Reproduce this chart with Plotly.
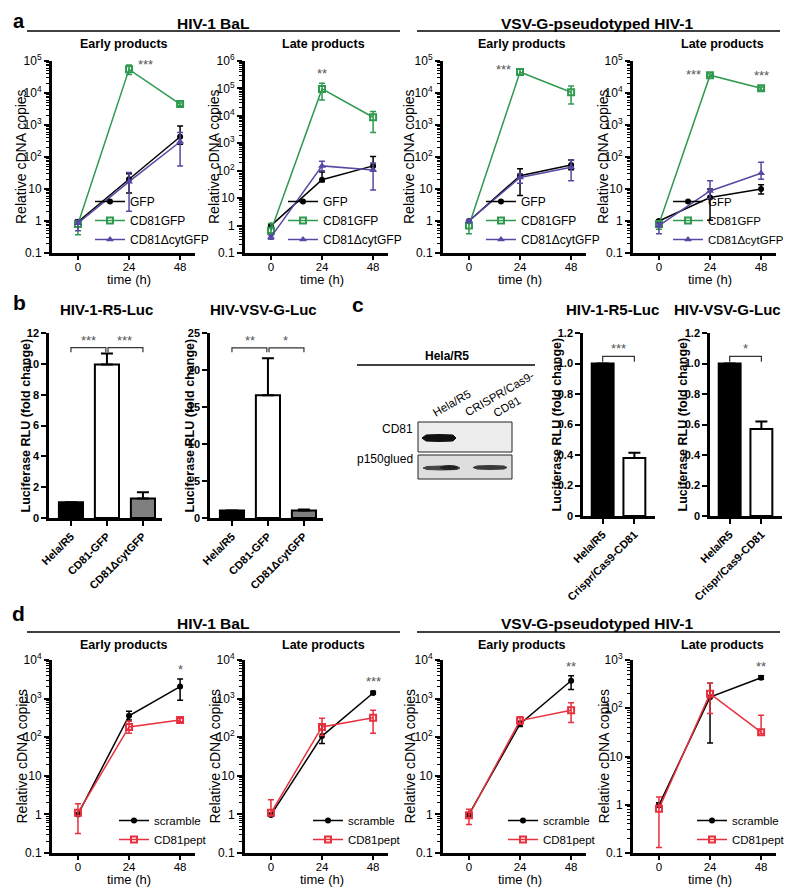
import math
import plotly.graph_objects as go

# page body keeps an 8px margin, so the figure is 784x880 and positions are
# expressed in reference-image pixels shifted by that margin
OFF = 8
FW, FH = 784, 880
FONT = "Liberation Sans, Arial, sans-serif"

# ------------------------------------------------------------------ data
time_h = [0, 24, 48]

# a) HIV-1 BaL - early products
a1_gfp, a1_gfp_hi, a1_gfp_lo = [0.95, 20, 430], [1.10, 30, 930], [0.80, 7.5, 250]
a1_cd81, a1_cd81_hi, a1_cd81_lo = [0.80, 55000, 4500], [1.00, 75000, 4900], [0.37, 38000, 4100]
a1_dcyt, a1_dcyt_hi, a1_dcyt_lo = [0.85, 17, 300], [1.05, 33, 580], [0.50, 2, 52]
# a) HIV-1 BaL - late products
a2_gfp, a2_gfp_hi, a2_gfp_lo = [1.0, 47, 150], [1.1, 90, 330], [0.9, 40, 100]
a2_cd81, a2_cd81_hi, a2_cd81_lo = [0.65, 96000, 8900], [1.2, 155000, 14500], [0.55, 38000, 2450]
a2_dcyt, a2_dcyt_hi, a2_dcyt_lo = [0.38, 150, 107], [0.45, 220, 190], [0.32, 100, 20]
# a) VSV-G - early products
a3_gfp, a3_gfp_hi, a3_gfp_lo = [1.0, 26, 56], [1.1, 43, 80], [0.9, 6.3, 40]
a3_cd81, a3_cd81_hi, a3_cd81_lo = [0.72, 45000, 10500], [1.0, 55000, 16500], [0.4, 38000, 4500]
a3_dcyt, a3_dcyt_hi, a3_dcyt_lo = [1.0, 23, 48], [1.1, 30, 81], [0.9, 15, 18]
# a) VSV-G - late products
a4_gfp, a4_gfp_hi, a4_gfp_lo = [1.0, 5.4, 10], [1.1, 10, 13.5], [0.9, 1.05, 7]
a4_cd81, a4_cd81_hi, a4_cd81_lo = [0.8, 36000, 14000], [1.0, 39000, 15500], [0.55, 33000, 12500]
a4_dcyt, a4_dcyt_hi, a4_dcyt_lo = [0.72, 8.7, 31], [0.85, 18, 69], [0.4, 5, 20]

a_names = ["GFP", "CD81GFP", "CD81\u0394cytGFP"]

# b) luciferase
b_categories = ["Hela/R5", "CD81-GFP", "CD81\u0394cytGFP"]
b_r5, b_r5_err = [1.02, 9.95, 1.27], [0, 0.72, 0.40]
b_vsv, b_vsv_err = [1.0, 16.6, 1.03], [0, 5.0, 0.12]
b_r5_sig = [(0, 1, "***"), (1, 2, "***")]
b_vsv_sig = [(0, 1, "**"), (1, 2, "*")]

# c) CRISPR knock-out
c_categories = ["Hela/R5", "Crispr/Cas9-CD81"]
c_r5, c_r5_err = [1.0, 0.38], [0, 0.035]
c_vsv, c_vsv_err = [1.0, 0.57], [0, 0.05]
c_r5_sig = [(0, 1, "***")]
c_vsv_sig = [(0, 1, "*")]
blot_lanes = ["Hela/R5", "CRISPR/Cas9-<br>CD81"]
blot_rows = ["CD81", "p150glued"]

# d) CD81 peptide
d_names = ["scramble", "CD81pept"]
d1_scr, d1_scr_hi, d1_scr_lo = [1.0, 360, 2050], [1.05, 470, 3200], [0.95, 280, 910]
d1_pep, d1_pep_hi, d1_pep_lo = [1.1, 185, 280], [1.9, 260, 310], [0.32, 126, 250]
d2_scr, d2_scr_hi, d2_scr_lo = [0.97, 107, 1400], [1.05, 210, 1550], [0.9, 69, 1300]
d2_pep, d2_pep_hi, d2_pep_lo = [1.1, 185, 320], [2.4, 310, 500], [0.95, 110, 126]
d3_scr, d3_scr_hi, d3_scr_lo = [1.0, 220, 2900], [1.1, 260, 3900], [0.9, 190, 1730]
d3_pep, d3_pep_hi, d3_pep_lo = [0.95, 270, 500], [1.35, 340, 780], [0.55, 220, 240]
d4_scr, d4_scr_hi, d4_scr_lo = [0.98, 170, 430], [1.1, 330, 470], [0.9, 19, 400]
d4_pep, d4_pep_hi, d4_pep_lo = [0.83, 200, 32], [1.45, 330, 72], [0.13, 78, 30]

# ------------------------------------------------------------------ styles
STY = {
    "GFP": dict(color="black", symbol="circle", size=6),
    "CD81GFP": dict(color="#2f9a4f", symbol="square-open", size=6),
    "CD81\u0394cytGFP": dict(color="#5748a4", symbol="triangle-up", size=7),
    "scramble": dict(color="black", symbol="circle", size=6),
    "CD81pept": dict(color="#e8303f", symbol="square-open", size=6),
}
BAR_FILL_B = ["black", "white", "#7f7f7f"]
BAR_FILL_C = ["black", "white"]
STAR_COLOR = "#555555"


def px(x):
    return (x - OFF) / FW


def py(y):
    return 1 - (y - OFF) / FH


def ax(idx):
    return ("x", "y") if idx == 1 else (f"x{idx}", f"y{idx}")


def axkey(idx):
    return ("xaxis", "yaxis") if idx == 1 else (f"xaxis{idx}", f"yaxis{idx}")


fig = go.Figure()
layout = dict(
    width=FW, height=FH, margin=dict(l=0, r=0, t=0, b=0, pad=0), autosize=False,
    paper_bgcolor="white", plot_bgcolor="white",
    font=dict(family=FONT, color="black", size=12),
    showlegend=True,
)
annotations = []
shapes = []


def text(x, y, s, size=12, bold=False, xanchor="center", yanchor="middle", angle=0):
    annotations.append(dict(x=px(x), y=py(y), xref="paper", yref="paper", text=s,
                            showarrow=False, xanchor=xanchor, yanchor=yanchor,
                            textangle=angle,
                            font=dict(size=size, weight="bold" if bold else "normal")))


def hline(x0, x1, y, w=1.6):
    shapes.append(dict(type="line", xref="paper", yref="paper", x0=px(x0), x1=px(x1),
                       y0=py(y), y1=py(y), line=dict(color="black", width=w)))


def add_line(idx, name, y, hi, lo, legend):
    xr, yr = ax(idx)
    s = STY[name]
    fig.add_trace(go.Scatter(
        x=time_h, y=y, name=name, mode="lines+markers", xaxis=xr, yaxis=yr,
        legend=legend, cliponaxis=False,
        line=dict(color=s["color"], width=1.5),
        marker=dict(symbol=s["symbol"], size=s["size"], color=s["color"],
                    line=dict(color=s["color"], width=2 if "open" in s["symbol"] else 0)),
        error_y=dict(type="data", symmetric=False,
                     array=[h - v for h, v in zip(hi, y)],
                     arrayminus=[v - l for v, l in zip(y, lo)],
                     color=s["color"], thickness=1.5, width=3),
    ))


def sup_label(e):
    if e == -1:
        return "0.1"
    if e == 0:
        return "1"
    if e == 1:
        return "10"
    return f"10<sup>{e}</sup>"


def line_axes(idx, x0, x1, top, bottom, top_exp, ytitle_x, xtitle_y):
    xk, yk = axkey(idx)
    xr, yr = ax(idx)
    exps = list(range(-1, top_exp + 1))
    minor_vals = [k * 10 ** e for e in range(-1, top_exp) for k in range(2, 10)]
    layout[xk] = dict(
        domain=[px(x0), px(x1)], anchor=yr, range=[-12.2, 55], automargin=False,
        tickvals=time_h, ticktext=[str(t) for t in time_h],
        showline=True, linewidth=2.5, linecolor="black", ticks="outside",
        ticklen=4, tickwidth=2, tickcolor="black", showgrid=False, zeroline=False,
        tickfont=dict(size=11.5), ticklabelstandoff=-3,
    )
    layout[yk] = dict(
        domain=[py(bottom), py(top)], anchor=xr, type="log", range=[-1, top_exp],
        automargin=False,
        tickvals=[10 ** e for e in exps], ticktext=[sup_label(e) for e in exps],
        showline=True, linewidth=3, linecolor="black", ticks="outside",
        ticklen=5, tickwidth=2, tickcolor="black", showgrid=False, zeroline=False,
        minor=dict(tickvals=minor_vals, ticks="outside", ticklen=3, tickwidth=1,
                   tickcolor="black", showgrid=False),
        tickfont=dict(size=12),
    )
    # axis titles placed as text next to the axes
    text(ytitle_x, (top + bottom) / 2, "Relative cDNA copies", size=14, angle=-90)
    text(x0 + 26 + 51, xtitle_y, "time (h)", size=13)


def bar_axes(idx, x0, x1, top, bottom, xrange, yrange, tickvals, ticktext, ytitle_x):
    xk, yk = axkey(idx)
    xr, yr = ax(idx)
    layout[xk] = dict(
        domain=[px(x0), px(x1)], anchor=yr, type="category", range=xrange,
        automargin=False,
        showline=True, linewidth=2.5, linecolor="black", ticks="outside",
        ticklen=5, tickwidth=2, tickcolor="black", showgrid=False, zeroline=False,
        tickangle=-45, tickfont=dict(size=11, weight="bold"),
    )
    layout[yk] = dict(
        domain=[py(bottom), py(top)], anchor=xr, range=yrange, automargin=False,
        tickvals=tickvals, ticktext=ticktext,
        showline=True, linewidth=2.5, linecolor="black", ticks="outside",
        ticklen=5, tickwidth=2, tickcolor="black", showgrid=False, zeroline=False,
        tickfont=dict(size=11, weight="bold"),
    )
    text(ytitle_x, (top + bottom) / 2, "Luciferase RLU (fold change)", size=12.5,
         bold=True, angle=-90)


def add_bars(idx, cats, vals, errs, fills, width):
    xr, yr = ax(idx)
    fig.add_trace(go.Bar(
        x=cats, y=vals, xaxis=xr, yaxis=yr, showlegend=False, width=width,
        marker=dict(color=fills, line=dict(color="black", width=2)),
        error_y=dict(type="data", symmetric=False, array=errs,
                     arrayminus=[0] * len(errs), color="black", thickness=2, width=6),
    ))


def add_brackets(idx, sig, level, leg, gap=0.0):
    xr, yr = ax(idx)
    for i0, i1, txt in sig:
        a0 = i0 + (gap if i0 > 0 else 0)
        a1 = i1 - (gap if i1 < 2 else 0)
        shapes.append(dict(type="path", xref=xr, yref=yr,
                           path=f"M {a0},{level - leg} L {a0},{level} L {a1},{level} L {a1},{level - leg}",
                           line=dict(color="#333333", width=1.2)))
        annotations.append(dict(x=(i0 + i1) / 2, y=level, xref=xr, yref=yr, text=txt,
                                showarrow=False, yanchor="bottom", yshift=-2,
                                font=dict(size=13, color=STAR_COLOR)))


def star(idx, x, yval, txt, xanchor="center", yanchor="bottom", xshift=0, yshift=0):
    xr, yr = ax(idx)
    annotations.append(dict(x=x, y=math.log10(yval), xref=xr, yref=yr, text=txt,
                            showarrow=False, xanchor=xanchor, yanchor=yanchor,
                            xshift=xshift, yshift=yshift,
                            font=dict(size=13, color=STAR_COLOR)))


def legend_box(key, x0, ybottom, size=12):
    layout[key] = dict(x=px(x0), y=py(ybottom), xanchor="left", yanchor="bottom",
                       bgcolor="rgba(0,0,0,0)", borderwidth=0, tracegroupgap=0,
                       font=dict(size=size), itemwidth=30)


# ------------------------------------------------------------------ panel a
A_TOP, A_BOT = 61, 253
a_cols = [(52, 195), (245, 388), (443, 586), (633, 776)]
ytitle_xs = [21, 214, 409, 603]
a_exps = [5, 6, 5, 5]
a_data = [
    [(a1_gfp, a1_gfp_hi, a1_gfp_lo), (a1_cd81, a1_cd81_hi, a1_cd81_lo), (a1_dcyt, a1_dcyt_hi, a1_dcyt_lo)],
    [(a2_gfp, a2_gfp_hi, a2_gfp_lo), (a2_cd81, a2_cd81_hi, a2_cd81_lo), (a2_dcyt, a2_dcyt_hi, a2_dcyt_lo)],
    [(a3_gfp, a3_gfp_hi, a3_gfp_lo), (a3_cd81, a3_cd81_hi, a3_cd81_lo), (a3_dcyt, a3_dcyt_hi, a3_dcyt_lo)],
    [(a4_gfp, a4_gfp_hi, a4_gfp_lo), (a4_cd81, a4_cd81_hi, a4_cd81_lo), (a4_dcyt, a4_dcyt_hi, a4_dcyt_lo)],
]
a_leg_x = [90, 283, 481, 668]
for i in range(4):
    idx = i + 1
    x0, x1 = a_cols[i]
    line_axes(idx, x0, x1, A_TOP, A_BOT, a_exps[i], ytitle_xs[i], 279)
    lk = "legend" if idx == 1 else f"legend{idx}"
    legend_box(lk, a_leg_x[i], 254, size=12 if idx < 4 else 11.5)
    for name, (y, hi, lo) in zip(a_names, a_data[i]):
        add_line(idx, name, y, hi, lo, lk)

star(1, 24, a1_cd81_hi[1], "***", xanchor="left", yanchor="middle", xshift=7)
star(2, 24, a2_cd81_hi[1], "**")
star(3, 24, a3_cd81_hi[1], "***", xanchor="right", yanchor="middle", xshift=-7)
star(4, 24, a4_cd81_hi[1], "***", xanchor="right", yanchor="middle", xshift=-7)
star(4, 48, a4_cd81_hi[2], "***", yshift=2)

# ------------------------------------------------------------------ panel b / c bars
B_TOP, B_BOT = 333, 518
bar_axes(5, 49, 162, B_TOP, B_BOT, [-0.61, 2.53], [0, 12],
         [0, 2, 4, 6, 8, 10, 12], ["0", "2", "4", "6", "8", "10", "12"], 26)
add_bars(5, b_categories, b_r5, b_r5_err, BAR_FILL_B, 0.67)
add_brackets(5, b_r5_sig, 11.05, 0.3, gap=0.03)

bar_axes(6, 210, 323, B_TOP, B_BOT, [-0.61, 2.53], [0, 25],
         [0, 5, 10, 15, 20, 25], ["0", "5", "10", "15", "20", "25"], 190)
add_bars(6, b_categories, b_vsv, b_vsv_err, BAR_FILL_B, 0.67)
add_brackets(6, b_vsv_sig, 23.0, 0.6, gap=0.03)

c_ticks = [0, 0.2, 0.4, 0.6, 0.8, 1.0, 1.2]
c_text = ["0", "0.2", "0.4", "0.6", "0.8", "1.0", "1.2"]
bar_axes(7, 583, 655, B_TOP, 516, [-0.62, 1.65], [0, 1.2], c_ticks, c_text, 556)
add_bars(7, c_categories, c_r5, c_r5_err, BAR_FILL_C, 0.69)
add_brackets(7, c_r5_sig, 1.047, 0.035)

bar_axes(8, 710, 782, B_TOP, 516, [-0.62, 1.65], [0, 1.2], c_ticks, c_text, 682)
add_bars(8, c_categories, c_vsv, c_vsv_err, BAR_FILL_C, 0.69)
add_brackets(8, c_vsv_sig, 1.047, 0.035)

# ------------------------------------------------------------------ panel d
D_TOP, D_BOT = 660, 853
d_exps = [4, 4, 4, 3]
d_data = [
    [(d1_scr, d1_scr_hi, d1_scr_lo), (d1_pep, d1_pep_hi, d1_pep_lo)],
    [(d2_scr, d2_scr_hi, d2_scr_lo), (d2_pep, d2_pep_hi, d2_pep_lo)],
    [(d3_scr, d3_scr_hi, d3_scr_lo), (d3_pep, d3_pep_hi, d3_pep_lo)],
    [(d4_scr, d4_scr_hi, d4_scr_lo), (d4_pep, d4_pep_hi, d4_pep_lo)],
]
d_leg_x = [114, 308, 503, 692]
for i in range(4):
    idx = i + 9
    x0, x1 = a_cols[i]
    line_axes(idx, x0, x1, D_TOP, D_BOT, d_exps[i], ytitle_xs[i], 879)
    lk = f"legend{idx}"
    legend_box(lk, d_leg_x[i], 854, size=11.5)
    for name, (y, hi, lo) in zip(d_names, d_data[i]):
        add_line(idx, name, y, hi, lo, lk)

star(9, 48, d1_scr_hi[2], "*")
star(10, 48, d2_scr_hi[2], "***")
star(11, 48, d3_scr_hi[2], "**")
star(12, 48, d4_scr_hi[2], "**")

# ------------------------------------------------------------------ titles & labels
text(19, 8, "a", size=20, bold=True, yanchor="top")
for lbl, (lx, ly) in zip(["b", "c", "d"], [(19, 302), (358, 304), (18, 613)]):
    text(lx, ly, lbl, size=21, bold=True)

for yt, yl, ys in [(23, 31, 44), (623, 632, 645)]:
    text(213, yt, "HIV-1 BaL", size=15.5, bold=True)
    text(597, yt, "VSV-G-pseudotyped HIV-1", size=15.5, bold=True)
    hline(27, 400, yl)
    hline(417, 780, yl)
    text(124, ys, "Early products", size=12.5, bold=True)
    text(323, ys, "Late products", size=12.5, bold=True)
    text(522, ys, "Early products", size=12.5, bold=True)
    text(722, ys, "Late products", size=12.5, bold=True)

text(107, 309, "HIV-1-R5-Luc", size=15, bold=True)
text(264, 309, "HIV-VSV-G-Luc", size=15, bold=True)
text(612, 309, "HIV-1-R5-Luc", size=15, bold=True)
text(727, 309, "HIV-VSV-G-Luc", size=15, bold=True)

# western blot
text(447, 356, "Hela/R5", size=12, bold=True)
hline(357, 535, 365)
text(452, 403, blot_lanes[0], size=11.5, angle=-30)
text(503, 401, blot_lanes[1], size=11.5, angle=-30)
text(415, 429, blot_rows[0], size=12, xanchor="right")
text(415, 459, blot_rows[1], size=12, xanchor="right")
shapes.append(dict(type="rect", xref="paper", yref="paper", x0=px(418), x1=px(512),
                   y0=py(452), y1=py(422), fillcolor="#ededed",
                   line=dict(color="#222222", width=1)))
shapes.append(dict(type="rect", xref="paper", yref="paper", x0=px(418), x1=px(512),
                   y0=py(479), y1=py(455), fillcolor="#dedede",
                   line=dict(color="#222222", width=1)))


def band(xa, xb, yc, th, color):
    pts = [(xa, yc), (xa + 4, yc - th / 2), ((xa + xb) / 2, yc - th / 2 - 0.5),
           (xb - 3, yc - th / 2), (xb, yc), (xb - 3, yc + th / 2),
           ((xa + xb) / 2, yc + th / 2 + 0.5), (xa + 4, yc + th / 2)]
    path = "M " + " L ".join(f"{px(a):.5f},{py(b):.5f}" for a, b in pts) + " Z"
    shapes.append(dict(type="path", xref="paper", yref="paper", path=path,
                       fillcolor=color, line=dict(color=color, width=1)))


band(422, 456, 438, 6, "#111111")
band(423, 460, 468, 3, "#444444")
band(440, 458, 467.5, 3, "#222222")
band(473, 507, 467.5, 3, "#3a3a3a")

layout["annotations"] = annotations
layout["shapes"] = shapes
fig.update_layout(**layout)
fig.write_html("out.html")
